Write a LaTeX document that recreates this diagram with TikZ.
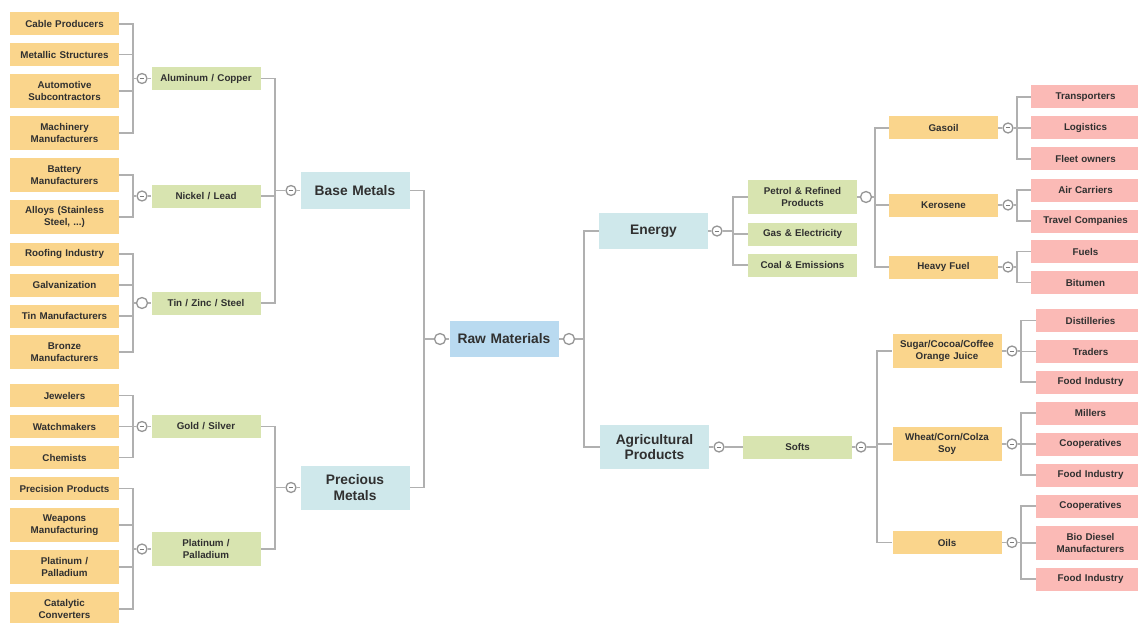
\documentclass[tikz,border=0pt]{standalone}
\usepackage{fontspec}
\setmainfont{Liberation Sans}
\usetikzlibrary{backgrounds}
\definecolor{orangebox}{RGB}{250,213,140}
\definecolor{greenbox}{RGB}{216,228,176}
\definecolor{headbox}{RGB}{207,232,235}
\definecolor{rawbox}{RGB}{185,218,240}
\definecolor{pinkbox}{RGB}{251,186,182}
\definecolor{linecol}{RGB}{176,176,176}
\definecolor{txtcol}{RGB}{48,48,48}
\tikzset{
  basebox/.style={inner xsep=1pt, inner ysep=0pt, text width=107pt, align=center, minimum width=109pt, text=txtcol, font=\bfseries\fontsize{9.8}{11.6}\selectfont},
  smallone/.style={basebox, minimum height=23pt},
  smalltwo/.style={basebox, minimum height=34pt},
  obox/.style={fill=orangebox},
  gbox/.style={fill=greenbox},
  pbox/.style={fill=pinkbox},
  hbox/.style={basebox, fill=headbox, minimum height=36pt, font=\bfseries\fontsize{13.8}{15.5}\selectfont},
  hboxtwo/.style={hbox, minimum height=44pt},
  rbox/.style={hbox, fill=rawbox},
  conn/.style={draw=linecol, line width=1.8pt},
  knob/.style={circle, draw=linecol!85!black, fill=white, line width=1.3pt, minimum size=10pt, inner sep=0pt},
  knobminus/.style={knob, path picture={\draw[linecol!70!black, line width=1pt] ([xshift=-2.2pt]path picture bounding box.center) -- ([xshift=2.2pt]path picture bounding box.center);}},
  knobopen/.style={knob, minimum size=11pt}
}
\begin{document}
\begin{tikzpicture}[x=1pt,y=-1pt]
\useasboundingbox (0,0) rectangle (1138,623);
\clip (0,0) rectangle (1138,623);
% ---- left orange leaves
\node[smallone,obox] (o1) at (64.5,24) {Cable Producers};
\node[smallone,obox] (o2) at (64.5,54.5) {Metallic Structures};
\node[smalltwo,obox] (o3) at (64.5,91) {Automotive\\Subcontractors};
\node[smalltwo,obox] (o4) at (64.5,133) {Machinery\\Manufacturers};
\node[smalltwo,obox] (o5) at (64.5,175) {Battery\\Manufacturers};
\node[smalltwo,obox] (o6) at (64.5,217) {Alloys (Stainless\\Steel, ...)};
\node[smallone,obox] (o7) at (64.5,254) {Roofing Industry};
\node[smallone,obox] (o8) at (64.5,285) {Galvanization};
\node[smallone,obox] (o9) at (64.5,316) {Tin Manufacturers};
\node[smalltwo,obox] (o10) at (64.5,352) {Bronze\\Manufacturers};
\node[smallone,obox] (o11) at (64.5,395.5) {Jewelers};
\node[smallone,obox] (o12) at (64.5,426.5) {Watchmakers};
\node[smallone,obox] (o13) at (64.5,457.5) {Chemists};
\node[smallone,obox] (o14) at (64.5,488.5) {Precision Products};
\node[smalltwo,obox] (o15) at (64.5,525) {Weapons\\Manufacturing};
\node[smalltwo,obox] (o16) at (64.5,567) {Platinum /\\Palladium};
\node[smalltwo,obox] (o17) at (64.5,609) {Catalytic\\Converters};
% ---- left green
\node[smallone,gbox] (gAl) at (206,78.5) {Aluminum / Copper};
\node[smallone,gbox] (gNi) at (206,196) {Nickel / Lead};
\node[smallone,gbox] (gTin) at (206,303) {Tin / Zinc / Steel};
\node[smallone,gbox] (gGold) at (206,426.5) {Gold / Silver};
\node[smalltwo,gbox] (gPt) at (206,549) {Platinum /\\Palladium};
% ---- heads
\node[hbox] (base) at (355,190.5) {Base Metals};
\node[hboxtwo] (prec) at (355,487.5) {Precious\\Metals};
\node[rbox] (raw) at (504,339) {Raw Materials};
\node[hbox] (energy) at (653.5,231) {Energy};
\node[hboxtwo] (agri) at (654.5,447) {Agricultural\\Products};
% ---- energy branch
\node[smalltwo,gbox] (petrol) at (802.5,197) {Petrol \& Refined\\Products};
\node[smallone,gbox] (gas) at (802.5,234) {Gas \& Electricity};
\node[smallone,gbox] (coal) at (802.5,265) {Coal \& Emissions};
\node[smallone,obox] (gasoil) at (943.5,128) {Gasoil};
\node[smallone,obox] (kero) at (943.5,205) {Kerosene};
\node[smallone,obox] (heavy) at (943.5,267) {Heavy Fuel};
\node[smallone,pbox] (trans) at (1085.5,97) {Transporters};
\node[smallone,pbox] (logis) at (1085.5,128) {Logistics};
\node[smallone,pbox] (fleet) at (1085.5,159) {Fleet owners};
\node[smallone,pbox] (air) at (1085.5,190) {Air Carriers};
\node[smallone,pbox] (travel) at (1085.5,221) {Travel Companies};
\node[smallone,pbox] (fuels) at (1085.5,251.5) {Fuels};
\node[smallone,pbox] (bitu) at (1085.5,282.5) {Bitumen};
% ---- agri branch
\node[smallone,gbox] (softs) at (797.5,447) {Softs};
\node[smalltwo,obox] (sugar) at (947,351) {Sugar/Cocoa/Coffee\\Orange Juice};
\node[smalltwo,obox] (wheat) at (947,444) {Wheat/Corn/Colza\\Soy};
\node[smallone,obox] (oils) at (947,542.5) {Oils};
\node[smallone,pbox] (dist) at (1090.5,320.5) {Distilleries};
\node[smallone,pbox] (traders) at (1090.5,351.5) {Traders};
\node[smallone,pbox] (food1) at (1090.5,382) {Food Industry};
\node[smallone,pbox] (millers) at (1090.5,413) {Millers};
\node[smallone,pbox] (coop1) at (1090.5,444) {Cooperatives};
\node[smallone,pbox] (food2) at (1090.5,475) {Food Industry};
\node[smallone,pbox] (coop2) at (1090.5,506) {Cooperatives};
\node[smalltwo,pbox] (bio) at (1090.5,542.7) {Bio Diesel\\Manufacturers};
\node[smallone,pbox] (food3) at (1090.5,579) {Food Industry};
% ---- knobs
\node[knobminus] (cAl) at (142,78.5) {};
\node[knobminus] (cNi) at (142,196) {};
\node[knobopen] (cTin) at (142,303) {};
\node[knobminus] (cGold) at (142,426.5) {};
\node[knobminus] (cPt) at (142,549) {};
\node[knobminus] (cBase) at (291,190.5) {};
\node[knobminus] (cPrec) at (291,487.5) {};
\node[knobopen] (cRawL) at (440,339) {};
\node[knobopen] (cRawR) at (569,339) {};
\node[knobminus] (cEn) at (717,231) {};
\node[knobopen] (cPet) at (866,197) {};
\node[knobminus] (cGas) at (1008,128) {};
\node[knobminus] (cKer) at (1008,205) {};
\node[knobminus] (cHea) at (1008,267) {};
\node[knobminus] (cAg) at (719,447) {};
\node[knobminus] (cSo) at (861,447) {};
\node[knobminus] (cSu) at (1012,351) {};
\node[knobminus] (cWh) at (1012,444) {};
\node[knobminus] (cOi) at (1012,542.5) {};
% ---- bracket coordinates
\coordinate (bAl) at (133,78.5);
\coordinate (bNi) at (133,196);
\coordinate (bTin) at (133,303);
\coordinate (bGold) at (133,426.5);
\coordinate (bPt) at (133,549);
\coordinate (bBase) at (275,190.5);
\coordinate (bPrec) at (275,487.5);
\coordinate (bRaw) at (424,339);
\coordinate (bRawR) at (584,339);
\coordinate (bEn) at (733,231);
\coordinate (bPet) at (875,197);
\coordinate (bGas) at (1017,128);
\coordinate (bKer) at (1017,205);
\coordinate (bHea) at (1017,267);
\coordinate (bSo) at (877,447);
\coordinate (bSu) at (1021,351);
\coordinate (bWh) at (1021,444);
\coordinate (bOi) at (1021,542.5);
\begin{pgfonlayer}{background}
% left leaves
\foreach \c in {o1,o2,o3,o4} \draw[conn] (\c.east) -| (bAl);
\foreach \c in {o5,o6} \draw[conn] (\c.east) -| (bNi);
\foreach \c in {o7,o8,o9,o10} \draw[conn] (\c.east) -| (bTin);
\foreach \c in {o11,o12,o13} \draw[conn] (\c.east) -| (bGold);
\foreach \c in {o14,o15,o16,o17} \draw[conn] (\c.east) -| (bPt);
\draw[conn] (bAl) -- (cAl) -- (gAl);
\draw[conn] (bNi) -- (cNi) -- (gNi);
\draw[conn] (bTin) -- (cTin) -- (gTin);
\draw[conn] (bGold) -- (cGold) -- (gGold);
\draw[conn] (bPt) -- (cPt) -- (gPt);
\foreach \c in {gAl,gNi,gTin} \draw[conn] (\c.east) -| (bBase);
\foreach \c in {gGold,gPt} \draw[conn] (\c.east) -| (bPrec);
\draw[conn] (bBase) -- (cBase) -- (base);
\draw[conn] (bPrec) -- (cPrec) -- (prec);
\foreach \c in {base,prec} \draw[conn] (\c.east) -| (bRaw);
\draw[conn] (bRaw) -- (cRawL) -- (raw);
% right
\draw[conn] (raw) -- (cRawR) -- (bRawR);
\foreach \c in {energy,agri} \draw[conn] (bRawR) |- (\c.west);
\draw[conn] (energy) -- (cEn) -- (bEn);
\foreach \c in {petrol,gas,coal} \draw[conn] (bEn) |- (\c.west);
\draw[conn] (petrol) -- (cPet) -- (bPet);
\foreach \c in {gasoil,kero,heavy} \draw[conn] (bPet) |- (\c.west);
\draw[conn] (gasoil) -- (cGas) -- (bGas);
\draw[conn] (kero) -- (cKer) -- (bKer);
\draw[conn] (heavy) -- (cHea) -- (bHea);
\foreach \c in {trans,logis,fleet} \draw[conn] (bGas) |- (\c.west);
\foreach \c in {air,travel} \draw[conn] (bKer) |- (\c.west);
\foreach \c in {fuels,bitu} \draw[conn] (bHea) |- (\c.west);
\draw[conn] (agri) -- (cAg) -- (softs);
\draw[conn] (softs) -- (cSo) -- (bSo);
\foreach \c in {sugar,wheat,oils} \draw[conn] (bSo) |- (\c.west);
\draw[conn] (sugar) -- (cSu) -- (bSu);
\draw[conn] (wheat) -- (cWh) -- (bWh);
\draw[conn] (oils) -- (cOi) -- (bOi);
\foreach \c in {dist,traders,food1} \draw[conn] (bSu) |- (\c.west);
\foreach \c in {millers,coop1,food2} \draw[conn] (bWh) |- (\c.west);
\foreach \c in {coop2,bio,food3} \draw[conn] (bOi) |- (\c.west);
\end{pgfonlayer}
\end{tikzpicture}
\end{document}
